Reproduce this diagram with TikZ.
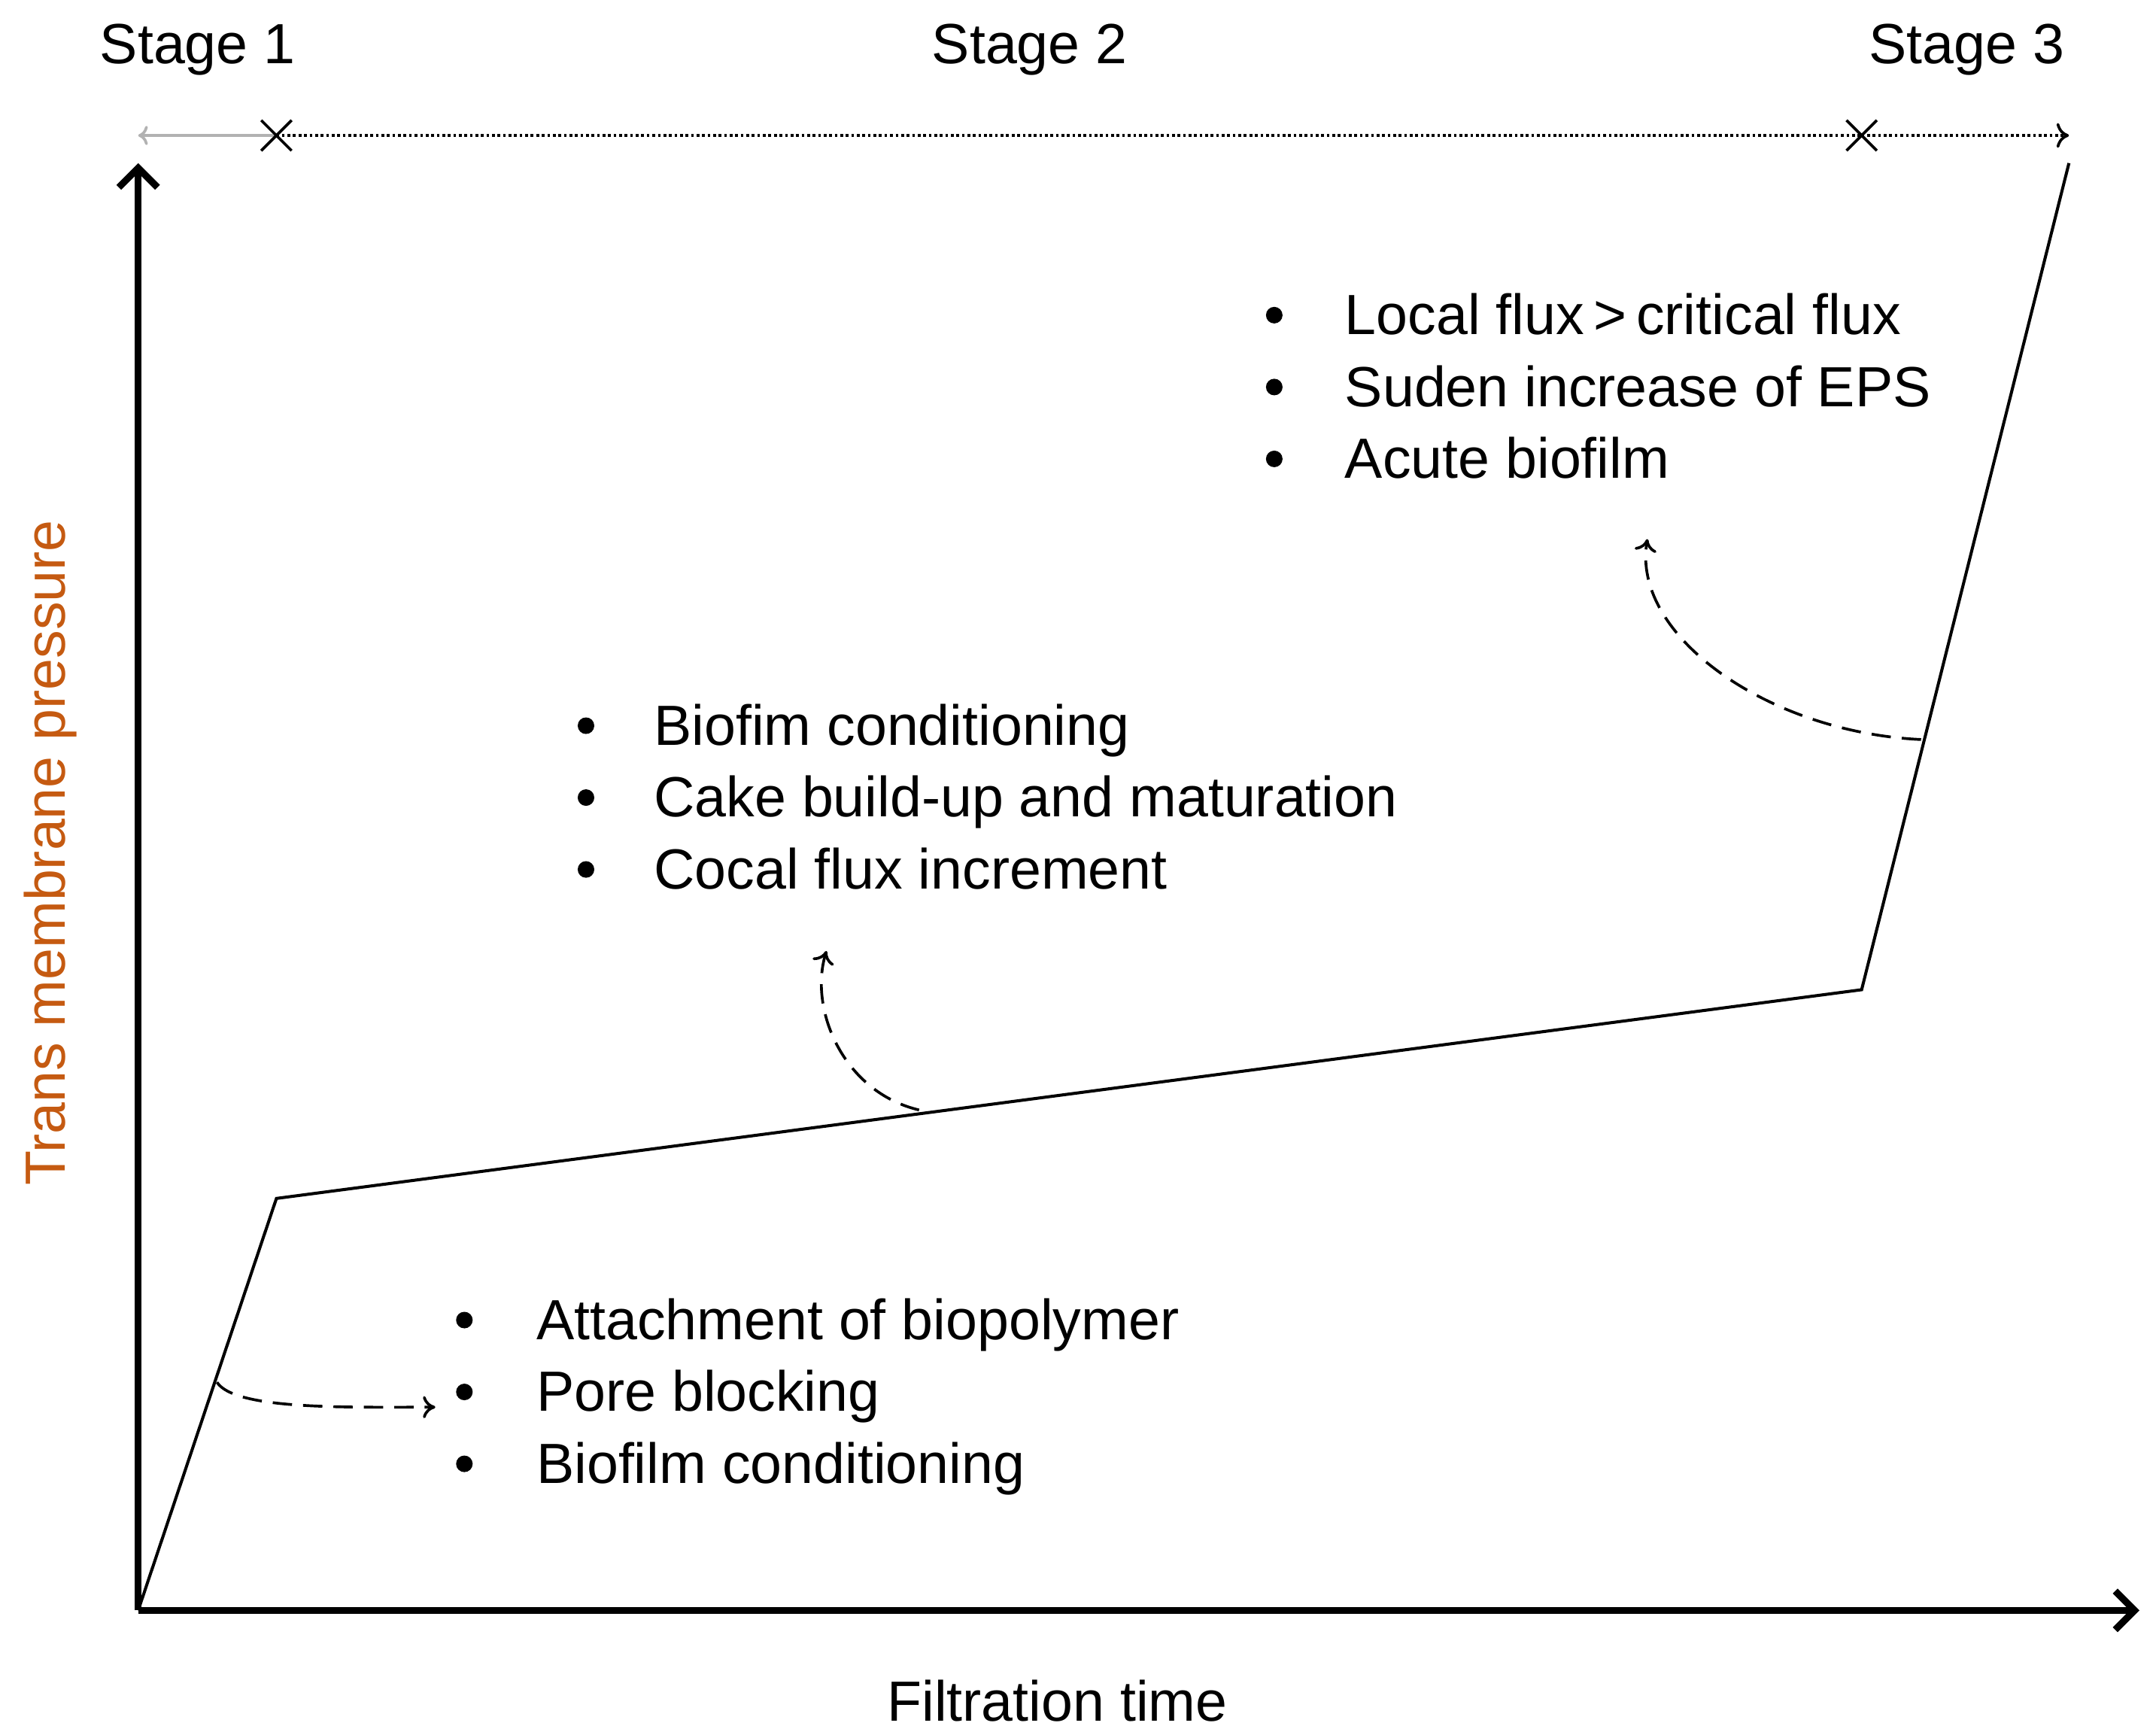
\documentclass[tikz,border=0pt]{standalone}
\usepackage{fontspec}
\setmainfont{Liberation Sans}
\usetikzlibrary{arrows.meta,calc}
\begin{document}
\begin{tikzpicture}[x=1pt,y=-1pt,
 lbl/.style={font=\fontsize{41}{46}\selectfont,anchor=base west,inner sep=0pt},
 bul/.style={circle,fill=black,inner sep=0pt,minimum size=12pt},
 dsh/.style={line width=2pt,dash pattern=on 14pt off 8pt,-{To[length=9pt,width=16pt]}}]
\useasboundingbox (0,0) rectangle (1560,1255);
\coordinate (O) at (100,1165);
\coordinate (Y) at (100,118);
\coordinate (X) at (1548,1165);
\draw[line width=5pt,-{Straight Barb[length=14pt,width=28pt]}] (O) -- (Y);
\draw[line width=5pt,-{Straight Barb[length=14pt,width=28pt]}] (O) -- (X);
\coordinate (p1) at (200,867);
\coordinate (p2) at (1347,716);
\coordinate (p3) at (1497,118);
\draw[line width=2.2pt] (O) -- (p1) -- (p2) -- (p3);
% top arrow
\coordinate (t0) at (100,98);
\coordinate (t1) at (200,98);
\coordinate (t2) at (1347,98);
\coordinate (t3) at (1497,98);
\draw[gray!60,line width=2pt,{To[length=7pt,width=14pt]}-] (t0) -- (t1);
\draw[line width=2pt,dotted] (t1) -- (t2);
\draw[line width=2pt,dotted,-{To[length=9pt,width=18pt]}] (t2) -- (t3);
\foreach \c in {t1,t2} \draw[line width=2pt] ($(\c)+(-11,-11)$) -- ($(\c)+(11,11)$) ($(\c)+(-11,11)$) -- ($(\c)+(11,-11)$);
\node[lbl,anchor=base] (s1) at (143,46) {Stage 1};
\node[lbl,anchor=base] (s2) at (745,46) {Stage 2};
\node[lbl,anchor=base] (s3) at (1423,46) {Stage 3};
\node[lbl,anchor=base,rotate=90,text={rgb,255:red,197;green,90;blue,17}] (yl) at (47,617) {Trans membrane pressure};
\node[lbl,anchor=base] (xl) at (765,1245) {Filtration time};
\foreach \t [count=\i] in {Attachment of biopolymer,Pore blocking,Biofilm conditioning}{
 \node[bul] at (336,{955+52*(\i-1)}) {};
 \node[lbl] at (388,{969+52*(\i-1)}) {\t};}
\foreach \t [count=\i] in {Biofim conditioning,Cake build-up and maturation,Cocal flux increment}{
 \node[bul] at (424,{525+52*(\i-1)}) {};
 \node[lbl] at (473,{539+52*(\i-1)}) {\t};}
\foreach \t [count=\i] in {Local flux\,>\,critical flux,Suden increase of EPS,Acute biofilm}{
 \node[bul] at (922,{228+52*(\i-1)}) {};
 \node[lbl] at (973,{242+52*(\i-1)}) {\t};}
\coordinate (a1) at (157,1000); \coordinate (b1) at (315,1018);
\coordinate (a2) at (665,803); \coordinate (b2) at (598,688);
\coordinate (a3) at (1390,535); \coordinate (b3) at (1192,390);
\draw[dsh] (a1) .. controls (170,1020) and (250,1018) .. (b1);
\draw[dsh] (a2) .. controls (610,790) and (585,730) .. (b2);
\draw[dsh] (a3) .. controls (1280,530) and (1180,460) .. (b3);
\end{tikzpicture}
\end{document}
